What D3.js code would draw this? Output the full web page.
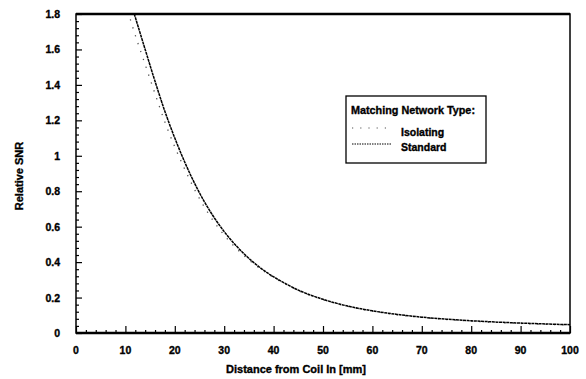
<!DOCTYPE html>
<html><head><meta charset="utf-8">
<script src="https://cdn.jsdelivr.net/npm/d3@7/dist/d3.min.js"></script>
<style>
body{margin:0;background:#fff;}
text{font-family:"Liberation Sans",Arial,sans-serif;font-weight:bold;fill:#000;stroke:#000;stroke-width:0.35px;}
</style></head><body>
<svg id="c" width="586" height="379"></svg>
<script>
const standardX = [11.8,14,16,18,20,22,24,26,28,30,32,34,36,38,40,45,50,55,60,65,70,75,80,85,90,95,100];
const standardY = [1.80,1.60,1.42,1.25,1.10,0.965,0.845,0.74,0.65,0.572,0.505,0.447,0.397,0.354,0.317,0.242,0.19,0.152,0.125,0.105,0.0895,0.078,0.069,0.062,0.056,0.051,0.047];
const isolatingX = [11,12,14,16,18,20,22,24,26,28,30,32,34,36,38,40,45,50,55,60,65,70,75,80,85,90,95,100];
const isolatingY = [1.77,1.68,1.515,1.35,1.19,1.05,0.925,0.81,0.71,0.625,0.552,0.49,0.437,0.39,0.349,0.314,0.24,0.188,0.15,0.123,0.103,0.088,0.076,0.067,0.060,0.054,0.049,0.045];
const xTicks = [0,10,20,30,40,50,60,70,80,90,100];
const yTicks = [0,0.2,0.4,0.6,0.8,1,1.2,1.4,1.6,1.8];
const yTickLabels = ["0","0.2","0.4","0.6","0.8","1","1.2","1.4","1.6","1.8"];
const seriesNames = ["Isolating","Standard"];

const svg = d3.select("#c");
const L=76, R=570, T=14, B=333;
const x = d3.scaleLinear().domain([0,100]).range([L,R]);
const y = d3.scaleLinear().domain([0,1.8]).range([B,T]);

svg.append("defs").append("clipPath").attr("id","clip")
  .append("rect").attr("x",L).attr("y",T).attr("width",R-L).attr("height",B-T);

// frame
svg.append("rect").attr("x",L).attr("y",T).attr("width",R-L).attr("height",B-T)
  .attr("fill","none").attr("stroke","#000").attr("stroke-width",1.5);
svg.append("line").attr("x1",L).attr("x2",R).attr("y1",T).attr("y2",T).attr("stroke","#000").attr("stroke-width",2.5);
svg.append("line").attr("x1",L).attr("x2",R).attr("y1",B).attr("y2",B).attr("stroke","#000").attr("stroke-width",2.5);

// x ticks (inward)
const xMinor = d3.range(0,101,2).filter(v=>v%10!==0);
svg.append("g").attr("transform",`translate(0,${B})`).call(d3.axisTop(x).tickValues(xTicks).tickSize(7).tickFormat(""))
  .call(g=>g.select(".domain").remove()).selectAll("line").attr("stroke-width",1.2);
svg.append("g").attr("transform",`translate(0,${B})`).call(d3.axisTop(x).tickValues(xMinor).tickSize(3).tickFormat(""))
  .call(g=>g.select(".domain").remove()).selectAll("line").attr("stroke-width",1.2);
svg.append("g").selectAll("text").data(xTicks).join("text")
  .attr("x",d=>x(d)).attr("y",354).attr("text-anchor","middle").attr("font-size",10.5).text(d=>d);

// y ticks (inward)
const yMinor = d3.range(0,46).map(i=>+(i*0.04).toFixed(2)).filter(v=>Math.abs(v/0.2-Math.round(v/0.2))>1e-6);
svg.append("g").attr("transform",`translate(${L},0)`).call(d3.axisRight(y).tickValues(yTicks).tickSize(6).tickFormat(""))
  .call(g=>g.select(".domain").remove()).selectAll("line").attr("stroke-width",1.2);
svg.append("g").attr("transform",`translate(${L},0)`).call(d3.axisRight(y).tickValues(yMinor).tickSize(3).tickFormat(""))
  .call(g=>g.select(".domain").remove()).selectAll("line").attr("stroke-width",1.2);
svg.append("g").selectAll("text").data(yTicks).join("text")
  .attr("x",60).attr("y",d=>y(d)+4).attr("text-anchor","end").attr("font-size",10.5)
  .text((d,i)=>yTickLabels[i]);

// axis titles
svg.append("text").attr("x",296).attr("y",373).attr("text-anchor","middle").attr("font-size",11)
  .text("Distance from Coil In [mm]");
svg.append("text").attr("transform","translate(23,176) rotate(-90)").attr("text-anchor","middle").attr("font-size",11)
  .text("Relative SNR");

// curves
const line = d3.line().x(d=>x(d[0])).y(d=>y(d[1])).curve(d3.curveCatmullRom.alpha(0.5));
const iso = isolatingX.map((v,i)=>[v,isolatingY[i]]);
const std = standardX.map((v,i)=>[v,standardY[i]]);
const g = svg.append("g").attr("clip-path","url(#clip)");
g.append("path").datum(iso).attr("d",line).attr("fill","none").attr("stroke","#555")
  .attr("stroke-width",1.3).attr("stroke-dasharray","1.3,7");
g.append("path").datum(std).attr("d",line).attr("fill","none").attr("stroke","#000")
  .attr("stroke-width",1.5).attr("stroke-dasharray","3,0.6");

// legend
const lg = svg.append("g");
lg.append("rect").attr("x",346).attr("y",96).attr("width",140).attr("height",67)
  .attr("fill","#fff").attr("stroke","#000").attr("stroke-width",1.3);
lg.append("text").attr("x",351).attr("y",114).attr("font-size",10.8).text("Matching Network Type:");
lg.append("line").attr("x1",352).attr("x2",392).attr("y1",128).attr("y2",128)
  .attr("stroke","#555").attr("stroke-width",1.2).attr("stroke-dasharray","1.2,7");
lg.append("line").attr("x1",352).attr("x2",392).attr("y1",144).attr("y2",144)
  .attr("stroke","#000").attr("stroke-width",1).attr("stroke-dasharray","1.5,1");
lg.append("text").attr("x",401).attr("y",136).attr("font-size",10.5).text(seriesNames[0]);
lg.append("text").attr("x",401).attr("y",151).attr("font-size",10.5).text(seriesNames[1]);
</script>
</body></html>
